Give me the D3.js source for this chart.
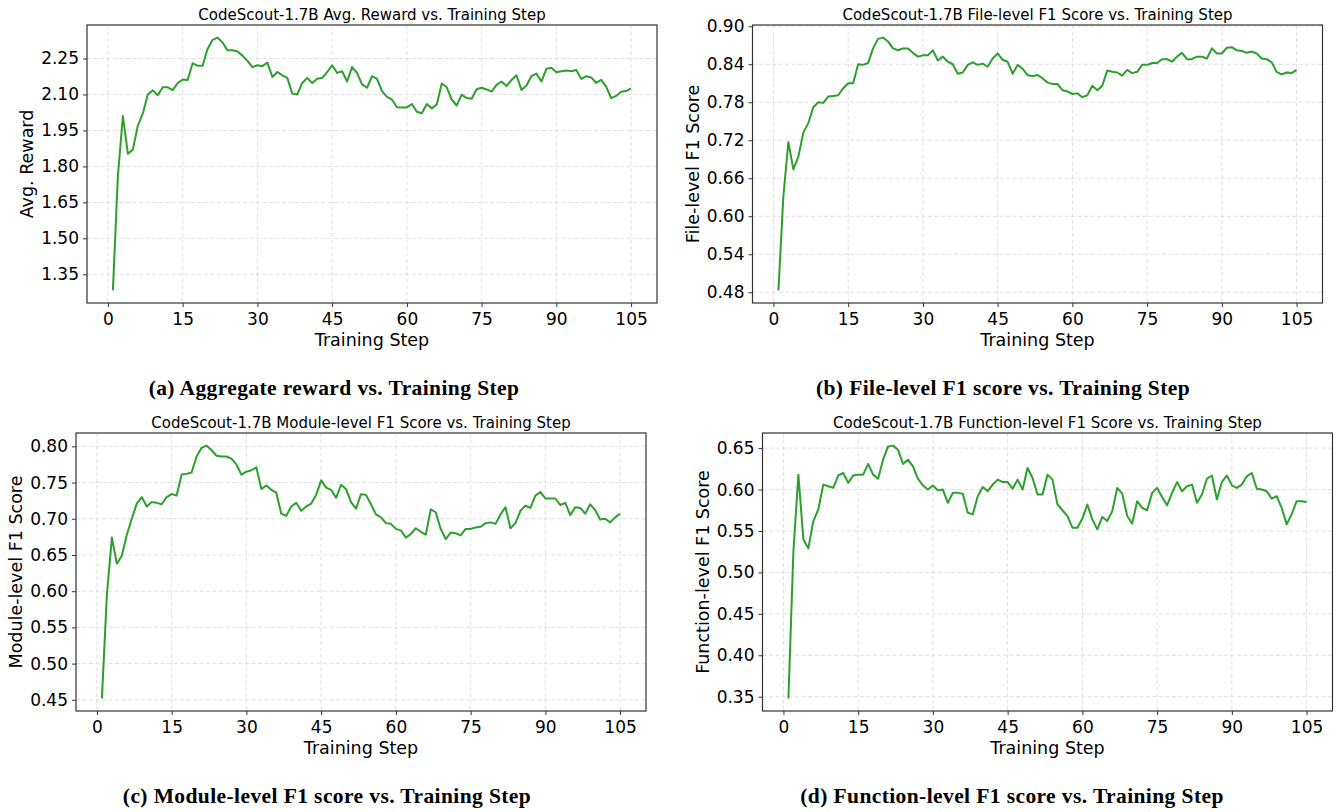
<!DOCTYPE html>
<html>
<head>
<meta charset="utf-8">
<script src="https://cdn.jsdelivr.net/npm/d3@7"></script>
<style>
  body { margin: 0; background: #fff; }
  svg text { font-family: "DejaVu Sans", sans-serif; fill: #000; }
  .caption { font-family: "Liberation Serif", "DejaVu Serif", serif !important; font-weight: bold; letter-spacing: 0.4px; }
</style>
</head>
<body>
<div class="svg-container"></div>
<script>
const steps = [1, 2, 3, 4, 5, 6, 7, 8, 9, 10, 11, 12, 13, 14, 15, 16, 17, 18, 19, 20,
  21, 22, 23, 24, 25, 26, 27, 28, 29, 30, 31, 32, 33, 34, 35, 36, 37, 38, 39, 40,
  41, 42, 43, 44, 45, 46, 47, 48, 49, 50, 51, 52, 53, 54, 55, 56, 57, 58, 59, 60,
  61, 62, 63, 64, 65, 66, 67, 68, 69, 70, 71, 72, 73, 74, 75, 76, 77, 78, 79, 80,
  81, 82, 83, 84, 85, 86, 87, 88, 89, 90, 91, 92, 93, 94, 95, 96, 97, 98, 99, 100,
  101, 102, 103, 104, 105];

const rewardVals = [1.283, 1.76, 2.01, 1.853, 1.87, 1.97, 2.02, 2.10, 2.117, 2.097,
  2.13, 2.13, 2.118, 2.148, 2.162, 2.16, 2.23, 2.22, 2.22, 2.29,
  2.328, 2.337, 2.317, 2.284, 2.284, 2.279, 2.262, 2.24, 2.214, 2.222,
  2.218, 2.233, 2.173, 2.194, 2.18, 2.169, 2.104, 2.10, 2.148, 2.169,
  2.148, 2.166, 2.169, 2.193, 2.222, 2.19, 2.197, 2.154, 2.214, 2.19,
  2.142, 2.128, 2.176, 2.165, 2.114, 2.09, 2.079, 2.047, 2.046, 2.046,
  2.06, 2.028, 2.022, 2.06, 2.042, 2.058, 2.146, 2.13, 2.079, 2.054,
  2.099, 2.085, 2.082, 2.122, 2.128, 2.121, 2.112, 2.14, 2.154, 2.135,
  2.16, 2.18, 2.119, 2.137, 2.176, 2.187, 2.154, 2.207, 2.211, 2.193,
  2.197, 2.20, 2.197, 2.202, 2.165, 2.176, 2.171, 2.148, 2.161, 2.133,
  2.085, 2.094, 2.111, 2.114, 2.125];

const fileF1 = [0.483, 0.632, 0.717, 0.674, 0.694, 0.732, 0.747, 0.772, 0.78, 0.779,
  0.789, 0.79, 0.791, 0.802, 0.81, 0.81, 0.84, 0.839, 0.842, 0.865,
  0.88, 0.882, 0.876, 0.865, 0.862, 0.865, 0.865, 0.858, 0.852, 0.854,
  0.854, 0.862, 0.846, 0.852, 0.844, 0.84, 0.825, 0.827, 0.839, 0.843,
  0.839, 0.841, 0.836, 0.849, 0.857, 0.847, 0.844, 0.825, 0.839, 0.833,
  0.823, 0.821, 0.823, 0.818, 0.811, 0.809, 0.809, 0.799, 0.797, 0.793,
  0.794, 0.788, 0.791, 0.806, 0.799, 0.806, 0.83, 0.828, 0.827, 0.822,
  0.831, 0.826, 0.828, 0.839, 0.839, 0.842, 0.842, 0.848, 0.848, 0.844,
  0.852, 0.858, 0.848, 0.848, 0.852, 0.852, 0.849, 0.865, 0.857, 0.857,
  0.866, 0.867, 0.862, 0.861, 0.858, 0.86, 0.857, 0.849, 0.848, 0.843,
  0.828, 0.824, 0.827, 0.826, 0.831];

const moduleF1 = [0.452, 0.595, 0.674, 0.638, 0.649, 0.678, 0.70, 0.721, 0.73, 0.717,
  0.723, 0.722, 0.72, 0.73, 0.734, 0.732, 0.761, 0.762, 0.764, 0.786,
  0.798, 0.801, 0.795, 0.787, 0.786, 0.786, 0.783, 0.775, 0.761, 0.765,
  0.767, 0.771, 0.741, 0.746, 0.74, 0.736, 0.707, 0.704, 0.717, 0.722,
  0.711, 0.717, 0.721, 0.733, 0.753, 0.743, 0.74, 0.729, 0.747, 0.741,
  0.723, 0.714, 0.734, 0.733, 0.72, 0.706, 0.702, 0.694, 0.693, 0.686,
  0.684, 0.674, 0.679, 0.687, 0.682, 0.678, 0.713, 0.709, 0.686, 0.672,
  0.681, 0.68, 0.677, 0.686, 0.686, 0.688, 0.689, 0.694, 0.695, 0.693,
  0.706, 0.716, 0.687, 0.694, 0.711, 0.718, 0.715, 0.732, 0.737, 0.728,
  0.728, 0.728, 0.719, 0.722, 0.705, 0.716, 0.715, 0.707, 0.72, 0.712,
  0.699, 0.70, 0.695, 0.702, 0.707];

const functionF1 = [0.348, 0.525, 0.618, 0.54, 0.529, 0.562, 0.576, 0.606, 0.604, 0.602,
  0.617, 0.62, 0.608, 0.617, 0.618, 0.618, 0.631, 0.618, 0.613, 0.636,
  0.652, 0.653, 0.648, 0.631, 0.636, 0.628, 0.613, 0.605, 0.60, 0.605,
  0.599, 0.60, 0.584, 0.596, 0.596, 0.595, 0.572, 0.57, 0.592, 0.603,
  0.598, 0.606, 0.612, 0.609, 0.609, 0.601, 0.612, 0.60, 0.626, 0.614,
  0.594, 0.594, 0.618, 0.612, 0.582, 0.575, 0.568, 0.554, 0.554, 0.565,
  0.582, 0.564, 0.552, 0.567, 0.562, 0.574, 0.602, 0.595, 0.568, 0.559,
  0.586, 0.578, 0.575, 0.596, 0.602, 0.591, 0.581, 0.596, 0.609, 0.598,
  0.604, 0.606, 0.584, 0.594, 0.613, 0.617, 0.588, 0.609, 0.617, 0.605,
  0.602, 0.606, 0.616, 0.62, 0.601, 0.60, 0.598, 0.589, 0.592, 0.578,
  0.558, 0.57, 0.586, 0.586, 0.585];

const xTicks = [0, 15, 30, 45, 60, 75, 90, 105];
const rewardTicks = [1.35, 1.50, 1.65, 1.80, 1.95, 2.10, 2.25];
const fileTicks = [0.48, 0.54, 0.60, 0.66, 0.72, 0.78, 0.84, 0.90];
const moduleTicks = [0.45, 0.50, 0.55, 0.60, 0.65, 0.70, 0.75, 0.80];
const functionTicks = [0.35, 0.40, 0.45, 0.50, 0.55, 0.60, 0.65];

const width = 1338;
const height = 812;
const plotW = 570;
const plotH = 278;

const panels = [
  { left: 87, top: 25, values: rewardVals, ticks: rewardTicks,
    title: 'CodeScout-1.7B Avg. Reward vs. Training Step', ylabel: 'Avg. Reward',
    caption: '(a) Aggregate reward vs. Training Step', capX: 334, capY: 395 },
  { left: 752.5, top: 25, values: fileF1, ticks: fileTicks,
    title: 'CodeScout-1.7B File-level F1 Score vs. Training Step', ylabel: 'File-level F1 Score',
    caption: '(b) File-level F1 score vs. Training Step', capX: 1003, capY: 395 },
  { left: 76, top: 433, values: moduleF1, ticks: moduleTicks,
    title: 'CodeScout-1.7B Module-level F1 Score vs. Training Step', ylabel: 'Module-level F1 Score',
    caption: '(c) Module-level F1 score vs. Training Step', capX: 327, capY: 803 },
  { left: 762.5, top: 433, values: functionF1, ticks: functionTicks,
    title: 'CodeScout-1.7B Function-level F1 Score vs. Training Step', ylabel: 'Function-level F1 Score',
    caption: '(d) Function-level F1 score vs. Training Step', capX: 1012, capY: 803 }
];

const svg = d3.select('.svg-container')
  .append('svg')
  .attr('width', width)
  .attr('height', height);

svg.append('rect').attr('width', width).attr('height', height).attr('fill', '#fff');

panels.forEach((p) => {
  const g = svg.append('g').attr('transform', `translate(${p.left},${p.top})`);

  // matplotlib style 5% margins
  const xPad = (d3.max(steps) - d3.min(steps)) * 0.05;
  const x = d3.scaleLinear()
    .domain([d3.min(steps) - xPad, d3.max(steps) + xPad])
    .range([0, plotW]);
  const [lo, hi] = d3.extent(p.values);
  const yPad = (hi - lo) * 0.05;
  const y = d3.scaleLinear()
    .domain([lo - yPad, hi + yPad])
    .range([plotH, 0]);

  // grid
  g.append('g')
    .selectAll('line')
    .data(xTicks)
    .enter()
    .append('line')
    .attr('x1', (d) => x(d)).attr('x2', (d) => x(d))
    .attr('y1', 0).attr('y2', plotH)
    .attr('stroke', '#d8d8d8')
    .attr('stroke-width', 0.8)
    .attr('stroke-dasharray', '4,2.5');
  g.append('g')
    .selectAll('line')
    .data(p.ticks)
    .enter()
    .append('line')
    .attr('x1', 0).attr('x2', plotW)
    .attr('y1', (d) => y(d)).attr('y2', (d) => y(d))
    .attr('stroke', '#d8d8d8')
    .attr('stroke-width', 0.8)
    .attr('stroke-dasharray', '4,2.5');

  // axes
  const xAxis = g.append('g')
    .attr('transform', `translate(0,${plotH})`)
    .call(d3.axisBottom(x).tickValues(xTicks).tickSize(4).tickPadding(4).tickFormat(d3.format('d')));
  const yAxis = g.append('g')
    .call(d3.axisLeft(y).tickValues(p.ticks).tickSize(4).tickPadding(4).tickFormat(d3.format('.2f')));
  [xAxis, yAxis].forEach((a) => {
    a.select('.domain').remove();
    a.selectAll('line').attr('stroke', '#333').attr('stroke-width', 1);
    a.selectAll('text').style('font-size', '17px').attr('fill', '#000');
  });
  xAxis.selectAll('text').attr('dy', '0.85em');

  // line
  const line = d3.line()
    .x((d, i) => x(steps[i]))
    .y((d) => y(d));
  g.append('path')
    .datum(p.values)
    .attr('fill', 'none')
    .attr('stroke', '#2ca02c')
    .attr('stroke-width', 2)
    .attr('stroke-linejoin', 'round')
    .attr('d', line);

  // frame
  g.append('rect')
    .attr('width', plotW).attr('height', plotH)
    .attr('fill', 'none')
    .attr('stroke', '#333')
    .attr('stroke-width', 1.2);

  // title + labels
  g.append('text')
    .attr('x', plotW / 2).attr('y', -5.5)
    .attr('text-anchor', 'middle')
    .style('font-size', '15px')
    .text(p.title);
  g.append('text')
    .attr('x', plotW / 2).attr('y', plotH + 43)
    .attr('text-anchor', 'middle')
    .style('font-size', '17.5px')
    .text('Training Step');
  g.append('text')
    .attr('transform', `translate(-54,${plotH / 2}) rotate(-90)`)
    .attr('text-anchor', 'middle')
    .style('font-size', '17.5px')
    .text(p.ylabel);

  svg.append('text')
    .attr('class', 'caption')
    .attr('x', p.capX).attr('y', p.capY)
    .attr('text-anchor', 'middle')
    .style('font-size', '21.5px')
    .text(p.caption);
});
</script>
</body>
</html>
